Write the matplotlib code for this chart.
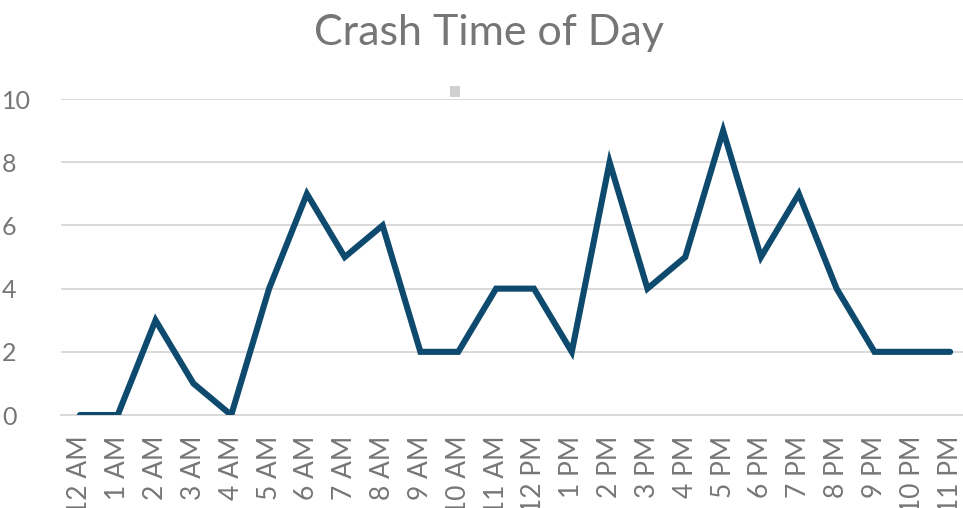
import matplotlib
matplotlib.use("Agg")
import matplotlib.pyplot as plt
from matplotlib.patches import Rectangle

plt.rcParams['font.family'] = ['Lato', 'DejaVu Sans']

# data
hours = ['12 AM', '1 AM', '2 AM', '3 AM', '4 AM', '5 AM', '6 AM', '7 AM',
         '8 AM', '9 AM', '10 AM', '11 AM', '12 PM', '1 PM', '2 PM', '3 PM',
         '4 PM', '5 PM', '6 PM', '7 PM', '8 PM', '9 PM', '10 PM', '11 PM']
crashes = [0, 0, 3, 1, 0, 4, 7, 5, 6, 2, 2, 4, 4, 2, 8, 4, 5, 9, 5, 7, 4, 2, 2, 2]
y_ticks = [0, 2, 4, 6, 8, 10]

text_grey = '#767676'
line_blue = '#0D4A6E'

fig = plt.figure(figsize=(9.63, 5.08), dpi=100)
ax = fig.add_axes([0.0633, 0.183, 0.943, 0.622])

x = range(len(hours))
ax.plot(x, crashes, color=line_blue, linewidth=4.4, solid_joinstyle='miter',
        solid_capstyle='round', zorder=3)

ax.set_xlim(-0.5, len(hours) - 0.5)
ax.set_ylim(0, 10)
ax.set_yticks(y_ticks)
ax.set_yticklabels([str(v) for v in y_ticks])
ax.set_xticks(list(x))
ax.set_xticklabels(hours, rotation=90, ha='center', va='top')

ax.grid(axis='y', color='#D9D9D9', linewidth=1.4)
ax.set_axisbelow(True)
for s in ['top', 'right', 'left']:
    ax.spines[s].set_visible(False)
ax.spines['bottom'].set_color('#D9D9D9')
ax.spines['bottom'].set_linewidth(1.4)

ax.tick_params(axis='y', length=0, pad=0, labelsize=18, labelcolor=text_grey)
ax.tick_params(axis='x', length=0, pad=15, labelsize=19, labelcolor=text_grey)
for t in ax.get_yticklabels():
    t.set_horizontalalignment('left')
    t.set_x(-0.065)

fig.text(0.508, 0.935, 'Crash Time of Day', ha='center', va='center',
         fontsize=31, color=text_grey)

# small selection handle square seen in the original
fig.patches.append(Rectangle((0.467, 0.81), 0.011, 0.02, transform=fig.transFigure,
                             facecolor='#D0D0D0', edgecolor='none'))

fig.savefig('out.png', dpi=100)
